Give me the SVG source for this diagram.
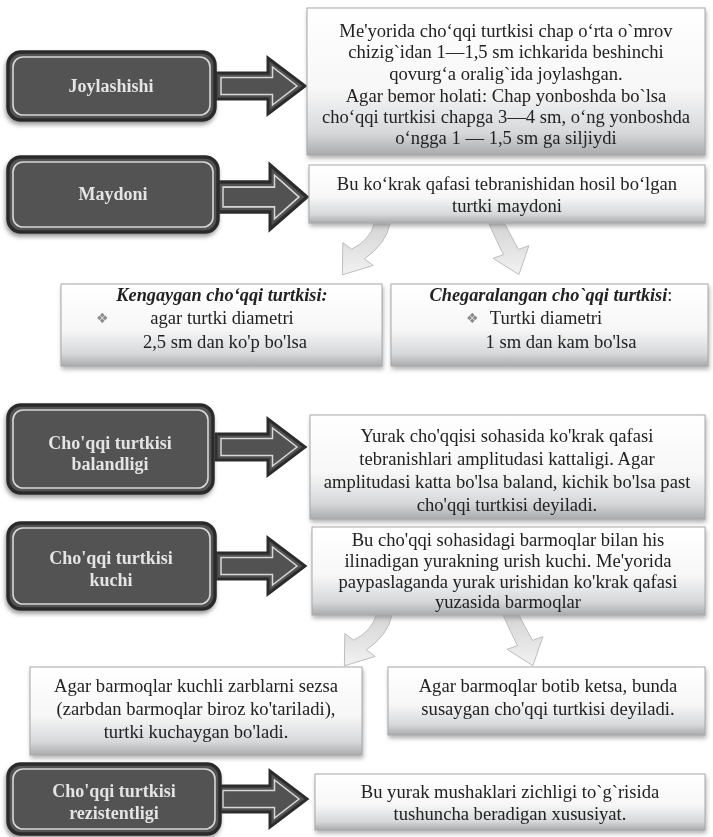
<svg xmlns="http://www.w3.org/2000/svg" xmlns:xlink="http://www.w3.org/1999/xlink" width="713" height="837" viewBox="0 0 713 837">
<style>
.lbl{font-family:"Liberation Serif","Times New Roman",serif;font-weight:bold;font-size:18px;fill:#e4e4e4;text-anchor:middle}
.txt{font-family:"Liberation Serif","Times New Roman",serif;font-size:18.6px;fill:#222;text-anchor:middle}
.ttl{font-family:"Liberation Serif","Times New Roman",serif;font-size:18.3px;font-weight:bold;font-style:italic;fill:#222;text-anchor:middle}
.bul{font-family:"DejaVu Sans",sans-serif;font-size:14px;fill:#8a8a8a}
.dbox{fill:#525252;stroke:#2c2c2c;stroke-width:3.5}
.dinner{fill:none;stroke:#d8d8d8;stroke-width:1.6}
.wbox{fill:url(#wg);stroke:#a8a8a8;stroke-width:1}
.arr{fill:#525252;stroke:#2c2c2c;stroke-width:3;stroke-linejoin:miter}
.arri{fill:none;stroke:#d8d8d8;stroke-width:1.5;stroke-linejoin:miter}
.carr{fill:url(#cg);stroke:#bdbdbd;stroke-width:1}
</style>
<defs>
<linearGradient id="wg" x1="0" y1="0" x2="0" y2="1">
<stop offset="0" stop-color="#ffffff"/>
<stop offset="0.55" stop-color="#f7f7f7"/>
<stop offset="0.85" stop-color="#d6d8da"/>
<stop offset="1" stop-color="#a9abad"/>
</linearGradient>
<linearGradient id="cg" x1="0" y1="0" x2="0" y2="1">
<stop offset="0" stop-color="#d4d4d4"/>
<stop offset="1" stop-color="#f2f2f2"/>
</linearGradient>
<filter id="sh" x="-10%" y="-10%" width="125%" height="135%">
<feDropShadow dx="1" dy="3" stdDeviation="2" flood-color="#777" flood-opacity="0.55"/>
</filter>
<filter id="dsh" x="-10%" y="-10%" width="125%" height="135%">
<feDropShadow dx="-1" dy="3" stdDeviation="2" flood-color="#555" flood-opacity="0.6"/>
</filter>
<g id="barrow">
<path class="arr" d="M0 -13 H52 V-28 L89 0 L52 28 V13 H0 Z"/>
<path class="arri" d="M5 -8.5 H56.5 V-19 L81 0 L56.5 19 V8.5 H5 Z"/>
</g>
<path id="carrL" class="carr" d="M374 0 Q370 16 351.6 25.2 L342.8 18.6 L342.4 50.8 L373.2 41.4 L364.4 34.8 Q386 20 390 0 Z"/>
<path id="carrR" class="carr" d="M489 0 Q497 18 503.5 30.6 L493.1 34.3 L518.9 50.6 L528.9 21.7 L518.5 25.4 Q510 10 505 0 Z"/>
</defs>
<rect width="713" height="837" fill="#ffffff"/>

<g id="connectors">
<use xlink:href="#barrow" transform="translate(216,86)"/>
<use xlink:href="#barrow" transform="translate(218,197) scale(1,1.15)"/>
<use xlink:href="#barrow" transform="translate(216,447)"/>
<use xlink:href="#barrow" transform="translate(216,566)"/>
<use xlink:href="#barrow" transform="translate(218,799)"/>
<use xlink:href="#carrL" transform="translate(0,224)"/>
<use xlink:href="#carrR" transform="translate(0,224)"/>
<use xlink:href="#carrL" transform="translate(2,615)"/>
<use xlink:href="#carrR" transform="translate(14,615)"/>
</g>

<g id="joylashishi" filter="url(#dsh)">
<rect class="dbox" x="8" y="52" width="207" height="68" rx="13"/>
<rect class="dinner" x="13" y="57" width="197" height="58" rx="10"/>
<text class="lbl" x="111" y="92">Joylashishi</text>
</g>
<g id="joylashishi-desc" filter="url(#sh)">
<rect class="wbox" x="307" y="8" width="398" height="147"/>
<text class="txt" x="506" y="37">Me'yorida cho‘qqi turtkisi chap o‘rta o`mrov</text>
<text class="txt" x="506" y="58">chizig`idan 1—1,5 sm ichkarida beshinchi</text>
<text class="txt" x="506" y="80">qovurg‘a oralig`ida joylashgan.</text>
<text class="txt" x="506" y="102">Agar bemor holati: Chap yonboshda bo`lsa</text>
<text class="txt" x="506" y="123">cho‘qqi turtkisi chapga 3—4 sm, o‘ng yonboshda</text>
<text class="txt" x="506" y="144">o‘ngga 1 — 1,5 sm ga siljiydi</text>
</g>

<g id="maydoni" filter="url(#dsh)">
<rect class="dbox" x="8" y="157" width="210" height="75" rx="13"/>
<rect class="dinner" x="13" y="162" width="200" height="65" rx="10"/>
<text class="lbl" x="113" y="200">Maydoni</text>
</g>
<g id="maydoni-desc" filter="url(#sh)">
<rect class="wbox" x="309" y="165" width="396" height="58"/>
<text class="txt" x="507" y="190">Bu ko‘krak qafasi tebranishidan hosil bo‘lgan</text>
<text class="txt" x="507" y="212">turtki maydoni</text>
</g>

<g id="kengaygan" filter="url(#sh)">
<rect class="wbox" x="61" y="284" width="321" height="82"/>
<text class="ttl" x="222" y="301">Kengaygan cho‘qqi turtkisi:</text>
<text class="bul" x="96" y="323">❖</text>
<text class="txt" x="222" y="324">agar turtki diametri</text>
<text class="txt" x="225" y="348">2,5 sm dan ko'p bo'lsa</text>
</g>
<g id="chegaralangan" filter="url(#sh)">
<rect class="wbox" x="391" y="284" width="317" height="82"/>
<text class="ttl" x="551" y="301">Chegaralangan cho`qqi turtkisi<tspan font-weight="normal" font-style="normal">:</tspan></text>
<text class="bul" x="466" y="323">❖</text>
<text class="txt" x="546" y="324">Turtki diametri</text>
<text class="txt" x="561" y="348">1 sm dan kam bo'lsa</text>
</g>

<g id="balandligi" filter="url(#dsh)">
<rect class="dbox" x="8" y="405" width="205" height="88" rx="13"/>
<rect class="dinner" x="13" y="410" width="195" height="78" rx="10"/>
<text class="lbl" x="110" y="449">Cho'qqi turtkisi</text>
<text class="lbl" x="110" y="470">balandligi</text>
</g>
<g id="balandligi-desc" filter="url(#sh)">
<rect class="wbox" x="310" y="415" width="395" height="104"/>
<text class="txt" x="507" y="442">Yurak cho'qqisi sohasida ko'krak qafasi</text>
<text class="txt" x="507" y="465">tebranishlari amplitudasi kattaligi. Agar</text>
<text class="txt" x="507" y="488">amplitudasi katta bo'lsa baland, kichik bo'lsa past</text>
<text class="txt" x="507" y="511">cho'qqi turtkisi deyiladi.</text>
</g>

<g id="kuchi" filter="url(#dsh)">
<rect class="dbox" x="8" y="523" width="207" height="86" rx="13"/>
<rect class="dinner" x="13" y="528" width="197" height="76" rx="10"/>
<text class="lbl" x="111" y="564">Cho'qqi turtkisi</text>
<text class="lbl" x="111" y="586">kuchi</text>
</g>
<g id="kuchi-desc" filter="url(#sh)">
<rect class="wbox" x="312" y="527" width="393" height="88"/>
<text class="txt" x="508" y="546">Bu cho'qqi sohasidagi barmoqlar bilan his</text>
<text class="txt" x="508" y="567">ilinadigan yurakning urish kuchi. Me'yorida</text>
<text class="txt" x="508" y="588">paypaslaganda yurak urishidan ko'krak qafasi</text>
<text class="txt" x="508" y="608" font-size="15.5">yuzasida barmoqlar</text>
</g>

<g id="kuchaygan" filter="url(#sh)">
<rect class="wbox" x="30" y="667" width="332" height="88"/>
<text class="txt" x="196" y="692">Agar barmoqlar kuchli zarblarni sezsa</text>
<text class="txt" x="196" y="715">(zarbdan barmoqlar biroz ko'tariladi),</text>
<text class="txt" x="196" y="738">turtki kuchaygan bo'ladi.</text>
</g>
<g id="susaygan" filter="url(#sh)">
<rect class="wbox" x="388" y="667" width="317" height="68"/>
<text class="txt" x="548" y="692">Agar barmoqlar botib ketsa, bunda</text>
<text class="txt" x="548" y="715">susaygan cho'qqi turtkisi deyiladi.</text>
</g>

<g id="rezistentligi" filter="url(#dsh)">
<rect class="dbox" x="8" y="764" width="212" height="70" rx="13"/>
<rect class="dinner" x="13" y="769" width="202" height="60" rx="10"/>
<text class="lbl" x="114" y="797">Cho'qqi turtkisi</text>
<text class="lbl" x="114" y="819">rezistentligi</text>
</g>
<g id="rezistentligi-desc" filter="url(#sh)">
<rect class="wbox" x="315" y="774" width="390" height="56"/>
<text class="txt" x="510" y="798">Bu yurak mushaklari zichligi to`g`risida</text>
<text class="txt" x="510" y="820">tushuncha beradigan xususiyat.</text>
</g>
</svg>
